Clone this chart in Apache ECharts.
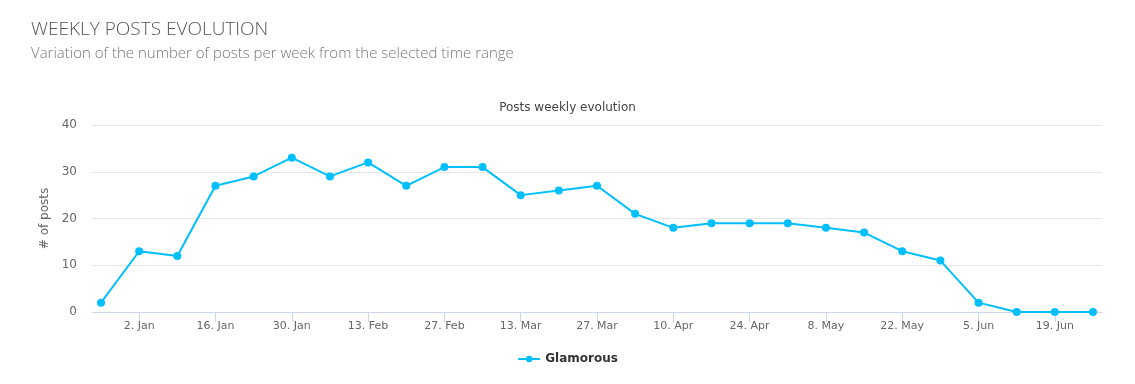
<!DOCTYPE html>
<html><head><meta charset="utf-8">
<script src="https://cdn.jsdelivr.net/npm/echarts@6/dist/echarts.min.js"></script>
<style>html,body{margin:0;padding:0;background:#fff}#c{width:1135px;height:384px}</style>
</head><body><div id="c"></div>
<script>
const weeks = ['26. Dec','2. Jan','9. Jan','16. Jan','23. Jan','30. Jan','6. Feb','13. Feb','20. Feb','27. Feb','6. Mar','13. Mar','20. Mar','27. Mar','3. Apr','10. Apr','17. Apr','24. Apr','1. May','8. May','15. May','22. May','29. May','5. Jun','12. Jun','19. Jun','26. Jun'];
const posts = [2,13,12,27,29,33,29,32,27,31,31,25,26,27,21,18,19,19,19,18,17,13,11,2,0,0,0];
const tickLabels = ['2. Jan','16. Jan','30. Jan','13. Feb','27. Feb','13. Mar','27. Mar','10. Apr','24. Apr','8. May','22. May','5. Jun','19. Jun'];
const yTicks = [0,10,20,30,40];

const tickPos = tickLabels.map(l => weeks.indexOf(l));
const chart = echarts.init(document.getElementById('c'), null, {renderer:'canvas'});
chart.setOption({
  animation:false,
  title:[
    {text:'WEEKLY POSTS EVOLUTION', left:26, top:15,
     textStyle:{fontFamily:'Open Sans', fontWeight:300, fontSize:19, color:'#555'}},
    {text:'Variation of the number of posts per week from the selected time range', left:26, top:41,
     textStyle:{fontFamily:'Open Sans', fontWeight:300, fontSize:15, color:'#777'}},
    {text:'Posts weekly evolution', left:'center', top:97,
     textStyle:{fontFamily:'DejaVu Sans', fontWeight:'normal', fontSize:12, color:'#444'}}
  ],
  legend:{bottom:14, left:'center', itemWidth:22, itemHeight:8, itemGap:6,
    textStyle:{fontFamily:'DejaVu Sans', fontWeight:'bold', fontSize:12, color:'#333'}},
  grid:{left:92, right:33, top:125, bottom:72, containLabel:false},
  xAxis:{type:'value', min:-0.236, max:26.236,
    axisLine:{show:true, lineStyle:{color:'#ccd6eb', width:1}},
    axisTick:{show:true, length:10, customValues:tickPos, lineStyle:{color:'#ccd6eb'}},
    axisLabel:{customValues:tickPos, formatter:v=>weeks[Math.round(v)], color:'#666',
      fontFamily:'DejaVu Sans', fontSize:11, margin:9},
    splitLine:{show:false}},
  yAxis:{type:'value', min:0, max:40, interval:10,
    name:'# of posts', nameLocation:'middle', nameGap:34, nameRotate:90,
    nameTextStyle:{fontFamily:'DejaVu Sans', fontSize:12, color:'#666'},
    axisLine:{show:false}, axisTick:{show:false},
    axisLabel:{customValues:yTicks, color:'#666', fontFamily:'DejaVu Sans', fontSize:12, margin:15},
    splitLine:{lineStyle:{color:'#e6e6e6'}}},
  series:[{name:'Glamorous', type:'line', data:posts.map((v,i)=>[i,v]),
    color:'#00bfff', lineStyle:{width:2}, symbol:'circle', symbolSize:8,
    itemStyle:{color:'#00bfff'}}]
});
</script></body></html>
